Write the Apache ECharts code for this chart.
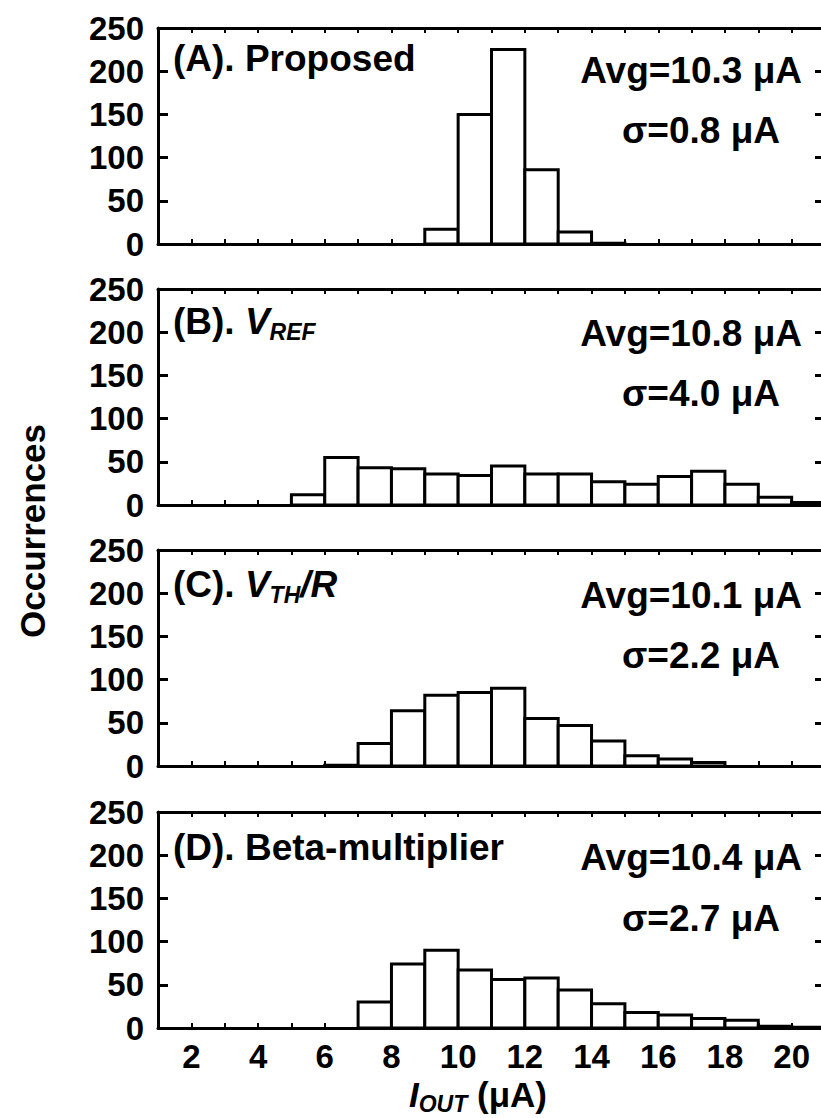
<!DOCTYPE html>
<html>
<head>
<meta charset="utf-8">
<title>I_OUT histograms</title>
<script src="https://cdn.jsdelivr.net/npm/echarts@6.0.0/dist/echarts.min.js"></script>
<style>
  html, body { margin: 0; padding: 0; background: #fff; overflow: hidden; }
  /* the plot frame runs just past the right edge of the page */
  #chart { width: 830px; height: 1118px; }
</style>
</head>
<body>
<div id="chart"></div>
<script>
// left edge of each 1 uA bin, and how many samples fell in it
const binsA = [9, 10, 11, 12, 13, 14];
const countsA = [17, 150, 225, 86, 14, 1];

const binsB = [5, 6, 7, 8, 9, 10, 11, 12, 13, 14, 15, 16, 17, 18, 19, 20];
const countsB = [12, 55, 43, 42, 36, 34, 45, 36, 36, 27, 24, 33, 39, 24, 9, 3];

const binsC = [6, 7, 8, 9, 10, 11, 12, 13, 14, 15, 16, 17];
const countsC = [1, 26, 64, 82, 85, 90, 55, 47, 29, 12, 8, 4];

const binsD = [7, 8, 9, 10, 11, 12, 13, 14, 15, 16, 17, 18, 19, 20];
const countsD = [30, 74, 90, 67, 56, 58, 44, 28, 18, 15, 11, 9, 2, 1];

// panel titles and stats
const titles = ['(A). Proposed', '(B). {i|V}{s|REF}', '(C). {i|V}{s|TH}{i|/R}', '(D). Beta-multiplier'];
const avgs = ['10.3', '10.8', '10.1', '10.4'];
const sigmas = ['0.8', '4.0', '2.2', '2.7'];

const xTicks = [2, 4, 6, 8, 10, 12, 14, 16, 18, 20];

const FONT = '"Liberation Sans", Arial, sans-serif';
const panels = [[binsA, countsA], [binsB, countsB], [binsC, countsC], [binsD, countsD]];
const tops = [28, 289, 550, 812];
// text offsets below each panel top
const titleOff = [30, 32, 34, 35];
const avgOff = [42, 44, 45, 45];
const sigOff = [102, 104, 105, 106];

const chart = echarts.init(document.getElementById('chart'), null, {renderer: 'svg'});

const line = {color: '#000', width: 3};
let grids = [], xAxes = [], yAxes = [], series = [], graphics = [];

panels.forEach((p, i) => {
    grids.push({left: 158, right: 5, top: tops[i], height: 216, containLabel: false, outerBoundsMode: 'none'});
    // bottom + top x axes
    xAxes.push({
        gridIndex: i, type: 'value', min: 1, max: 21, interval: 1, position: 'bottom',
        axisLine: {onZero: false, lineStyle: line},
        axisTick: {show: true, inside: true, length: 5, lineStyle: {color: '#000', width: 2}},
        axisLabel: {
            show: i === 3, margin: 12, color: '#000', fontSize: 33, fontWeight: 'bold', fontFamily: FONT,
            formatter: v => xTicks.indexOf(v) >= 0 ? String(v) : ''
        },
        splitLine: {show: false}
    });
    xAxes.push({
        gridIndex: i, type: 'value', min: 1, max: 21, interval: 1, position: 'top',
        axisLine: {onZero: false, lineStyle: line},
        axisTick: {show: true, inside: true, length: 5, lineStyle: {color: '#000', width: 2}},
        axisLabel: {show: false}, splitLine: {show: false}
    });
    // left + right y axes
    yAxes.push({
        gridIndex: i, type: 'value', min: 0, max: 250, interval: 50, position: 'left',
        axisLine: {show: true, lineStyle: line},
        axisTick: {show: true, inside: true, length: 10, lineStyle: {color: '#000', width: 3}},
        axisLabel: {margin: 14, color: '#000', fontSize: 33, fontWeight: 'bold', fontFamily: FONT},
        splitLine: {show: false}
    });
    yAxes.push({
        gridIndex: i, type: 'value', min: 0, max: 250, interval: 50, position: 'right',
        axisLine: {show: true, lineStyle: line},
        axisTick: {show: true, inside: true, length: 10, lineStyle: {color: '#000', width: 3}},
        axisLabel: {show: false}, splitLine: {show: false}
    });

    series.push({
        type: 'custom',
        xAxisIndex: i * 2, yAxisIndex: i * 2,
        data: p[0].map((b, k) => [b, p[1][k]]),
        renderItem: function (params, api) {
            const x0 = api.value(0);
            const tl = api.coord([x0, api.value(1)]);
            const br = api.coord([x0 + 1, 0]);
            return {
                type: 'rect',
                shape: {x: tl[0], y: tl[1], width: br[0] - tl[0], height: br[1] - tl[1]},
                style: {fill: '#fff', stroke: '#000', lineWidth: 3}
            };
        },
        z: 3
    });

    const base = {fill: '#000', fontSize: 37, fontWeight: 'bold', fontFamily: FONT, lineHeight: 44};
    graphics.push({
        type: 'text', z: 10, position: [173, tops[i] + titleOff[i]],
        style: Object.assign({}, base, {
            text: titles[i], x: 0, y: 0, align: 'left', verticalAlign: 'middle',
            rich: {
                i: {fontStyle: 'italic', fontWeight: 'bold', fontSize: 37, fontFamily: FONT, lineHeight: 44},
                s: {fontStyle: 'italic', fontWeight: 'bold', fontSize: 23, fontFamily: FONT, lineHeight: 23, verticalAlign: 'bottom'}
            }
        })
    });
    graphics.push({
        type: 'text', z: 10, position: [802, tops[i] + avgOff[i]],
        style: Object.assign({}, base, {text: 'Avg=' + avgs[i] + ' μA', x: 0, y: 0, align: 'right', verticalAlign: 'middle'})
    });
    graphics.push({
        type: 'text', z: 10, position: [780, tops[i] + sigOff[i]],
        style: Object.assign({}, base, {text: 'σ=' + sigmas[i] + ' μA', x: 0, y: 0, align: 'right', verticalAlign: 'middle'})
    });
});

// axis titles
graphics.push({
    type: 'text', z: 10, position: [32, 531], rotation: Math.PI / 2,
    style: {text: 'Occurrences', x: 0, y: 0, align: 'center', verticalAlign: 'middle',
        fill: '#000', fontSize: 35, fontWeight: 'bold', fontFamily: FONT}
});
graphics.push({
    type: 'text', z: 10, position: [478, 1094],
    style: {
        text: '{i|I}{s|OUT} (μA)', x: 0, y: 0, align: 'center', verticalAlign: 'middle',
        fill: '#000', fontSize: 35, fontWeight: 'bold', fontFamily: FONT, lineHeight: 42,
        rich: {
            i: {fontStyle: 'italic', fontWeight: 'bold', fontSize: 35, fontFamily: FONT, lineHeight: 42},
            s: {fontStyle: 'italic', fontWeight: 'bold', fontSize: 23, fontFamily: FONT, lineHeight: 23, verticalAlign: 'bottom'}
        }
    }
});

chart.setOption({
    backgroundColor: '#fff',
    animation: false,
    grid: grids,
    xAxis: xAxes,
    yAxis: yAxes,
    series: series,
    graphic: {elements: graphics}
});
</script>
</body>
</html>
